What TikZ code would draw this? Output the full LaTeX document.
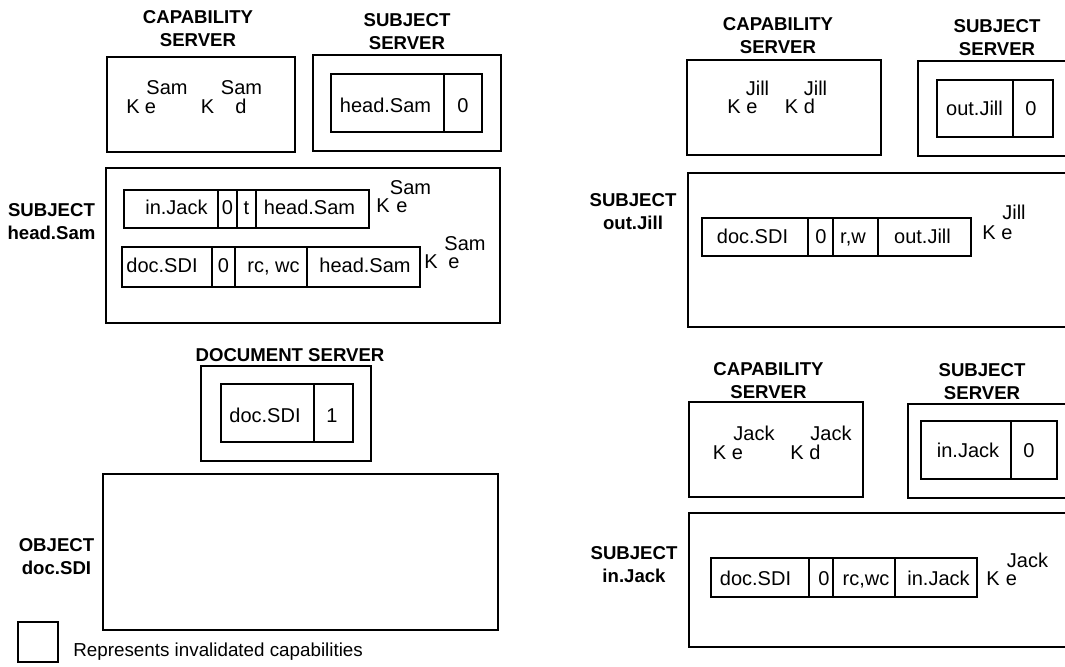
\documentclass[tikz,border=0pt]{standalone}
\usepackage{fontspec}
\setmainfont{Liberation Sans}

\begin{document}
\begin{tikzpicture}[x=0.5pt,y=-0.5pt,
    srvbox/.style={line width=1.4pt},
    recbox/.style={line width=1.2pt},
    title/.style={font=\fontsize{9.3}{11.5}\selectfont\bfseries,align=center,inner sep=0pt},
    cell/.style={font=\fontsize{10}{12}\selectfont,inner sep=0pt,text height=7.2pt,text depth=0pt},
    keytxt/.style={font=\fontsize{10}{12}\selectfont,inner sep=0pt,anchor=base}]

    \useasboundingbox (0,0) rectangle (1065,666);
    \clip (0,0) rectangle (1065,666);

    % Capability server of Sam
    \node[title] (capSamT) at (198,28.5) {CAPABILITY\\SERVER};
    \draw[srvbox] (107,57) rectangle (295,152);
    \node[keytxt] (capSamK1) at (133,113) {K};
    \node[keytxt] (capSamE)  at (150.5,113) {e};
    \node[keytxt] (capSamS1) at (167,94) {Sam};
    \node[keytxt] (capSamK2) at (207.5,113) {K};
    \node[keytxt] (capSamD)  at (241,113) {d};
    \node[keytxt] (capSamS2) at (241.5,94) {Sam};

    % Subject server of Sam
    \node[title] (subSamT) at (407,32) {SUBJECT\\SERVER};
    \draw[srvbox] (313,55) rectangle (501,151);
    \draw[recbox] (331,74) rectangle (482,132);
    \draw[recbox] (444,74) -- (444,132);
    \node[cell] (subSamN) at (385.5,105.5) {head.Sam};
    \node[cell] (subSamC) at (463,105.5) {0};

    % Subject head.Sam
    \node[title] (headSamT) at (51.5,222) {SUBJECT\\head.Sam};
    \draw[srvbox] (106,168) rectangle (500,323);

    \draw[recbox] (124,190) rectangle (369,228);
    \foreach \x in {218,237,256} \draw[recbox] (\x,190) -- (\x,228);
    \node[cell] (hsA1) at (176.5,207.5) {in.Jack};
    \node[cell] (hsA2) at (227.5,207.5) {0};
    \node[cell] (hsA3) at (246.5,207.5) {t};
    \node[cell] (hsA4) at (309.5,207.5) {head.Sam};
    \node[keytxt] (hsAK) at (383,212) {K};
    \node[keytxt] (hsAE) at (402,212) {e};
    \node[keytxt] (hsAS) at (410.5,194) {Sam};

    \draw[recbox] (122,247) rectangle (420,287);
    \foreach \x in {212,235,307} \draw[recbox] (\x,247) -- (\x,287);
    \node[cell] (hsB1) at (162,265.5) {doc.SDI};
    \node[cell] (hsB2) at (223.5,265.5) {0};
    \node[cell] (hsB3) at (273.5,265.5) {rc, wc};
    \node[cell] (hsB4) at (365,265.5) {head.Sam};
    \node[keytxt] (hsBK) at (431,268) {K};
    \node[keytxt] (hsBE) at (454,268) {e};
    \node[keytxt] (hsBS) at (465,250) {Sam};

    % Document server
    \node[title] (docSrvT) at (290,355) {DOCUMENT SERVER};
    \draw[srvbox] (201,366) rectangle (371,461);
    \draw[recbox] (221,384) rectangle (353,442);
    \draw[recbox] (314,384) -- (314,442);
    \node[cell] (docSrvN) at (265,415.5) {doc.SDI};
    \node[cell] (docSrvC) at (332,415.5) {1};

    % Object doc.SDI
    \node[title] (objT) at (56.5,556.5) {OBJECT\\doc.SDI};
    \draw[srvbox] (103,474) rectangle (498,630);

    % Legend
    \draw[recbox] (18,622) rectangle (58,662);
    \node[anchor=base west,inner sep=0pt,font=\fontsize{9.4}{11}\selectfont] (legT) at (73,656) {Represents invalidated capabilities};

    % Capability server of Jill
    \node[title] (capJillT) at (778,36) {CAPABILITY\\SERVER};
    \draw[srvbox] (687,60) rectangle (881,155);
    \node[keytxt] (capJillK1) at (734,113) {K};
    \node[keytxt] (capJillE)  at (752,113) {e};
    \node[keytxt] (capJillS1) at (757.5,95) {Jill};
    \node[keytxt] (capJillK2) at (791.5,113) {K};
    \node[keytxt] (capJillD)  at (809.5,113) {d};
    \node[keytxt] (capJillS2) at (815.5,95) {Jill};

    % Subject server of Jill
    \node[title] (subJillT) at (997,38) {SUBJECT\\SERVER};
    \draw[srvbox] (918,61) rectangle (1085,156);
    \draw[recbox] (937,80) rectangle (1053,137);
    \draw[recbox] (1013,80) -- (1013,137);
    \node[cell] (subJillN) at (974.5,108.5) {out.Jill};
    \node[cell] (subJillC) at (1031,108.5) {0};

    % Subject out.Jill
    \node[title] (outJillT) at (633,212) {SUBJECT\\out.Jill};
    \draw[srvbox] (688,173) rectangle (1085,327);
    \draw[recbox] (702,218) rectangle (971,256);
    \foreach \x in {808,833,878} \draw[recbox] (\x,218) -- (\x,256);
    \node[cell] (ojA1) at (752.5,236.5) {doc.SDI};
    \node[cell] (ojA2) at (821,236.5) {0};
    \node[cell] (ojA3) at (853,236.5) {r,w};
    \node[cell] (ojA4) at (922.5,236.5) {out.Jill};
    \node[keytxt] (ojAK) at (989,239) {K};
    \node[keytxt] (ojAE) at (1007,239) {e};
    \node[keytxt] (ojAS) at (1014,219) {Jill};

    % Capability server of Jack
    \node[title] (capJackT) at (768.5,380.5) {CAPABILITY\\SERVER};
    \draw[srvbox] (689,402) rectangle (863,497);
    \node[keytxt] (capJackK1) at (719.5,459) {K};
    \node[keytxt] (capJackE)  at (737.5,459) {e};
    \node[keytxt] (capJackS1) at (754,440) {Jack};
    \node[keytxt] (capJackK2) at (797,459) {K};
    \node[keytxt] (capJackD)  at (815,459) {d};
    \node[keytxt] (capJackS2) at (831,440) {Jack};

    % Subject server of Jack
    \node[title] (subJackT) at (982,382) {SUBJECT\\SERVER};
    \draw[srvbox] (908,404) rectangle (1085,498);
    \draw[recbox] (921,421) rectangle (1057,479);
    \draw[recbox] (1011,421) -- (1011,479);
    \node[cell] (subJackN) at (968,450) {in.Jack};
    \node[cell] (subJackC) at (1029,450) {0};

    % Subject in.Jack
    \node[title] (inJackT) at (634,565) {SUBJECT\\in.Jack};
    \draw[srvbox] (689,513) rectangle (1085,647);
    \draw[recbox] (711,558) rectangle (977,597);
    \foreach \x in {809,833,895} \draw[recbox] (\x,558) -- (\x,597);
    \node[cell] (ijA1) at (755.5,578) {doc.SDI};
    \node[cell] (ijA2) at (824,578) {0};
    \node[cell] (ijA3) at (866,578) {rc,wc};
    \node[cell] (ijA4) at (938.5,578) {in.Jack};
    \node[keytxt] (ijAK) at (993,585) {K};
    \node[keytxt] (ijAE) at (1011.5,585) {e};
    \node[keytxt] (ijAS) at (1027.5,567) {Jack};
\end{tikzpicture}
\end{document}
